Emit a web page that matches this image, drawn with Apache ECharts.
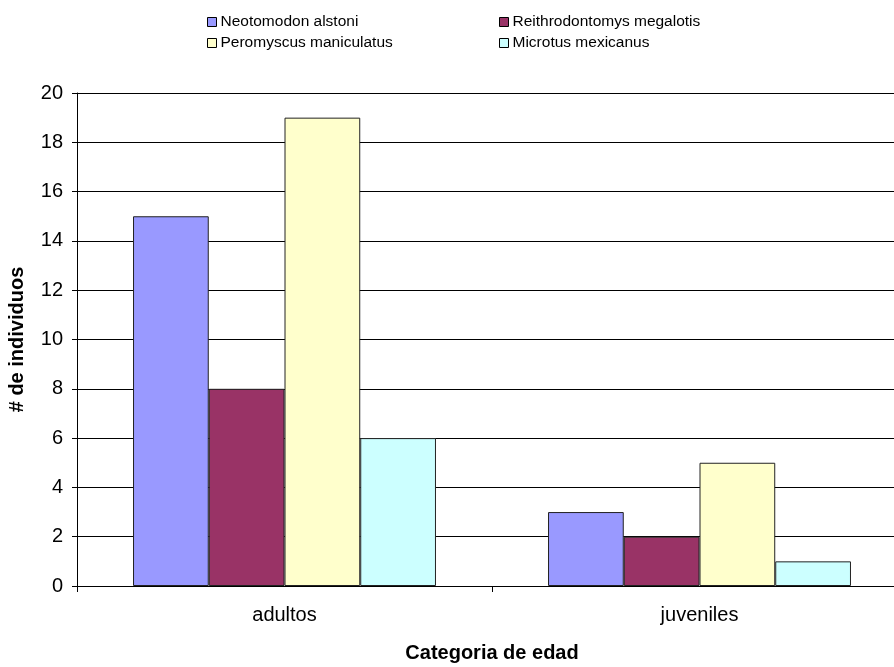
<!DOCTYPE html>
<html>
<head>
<meta charset="utf-8">
<script src="https://cdn.jsdelivr.net/npm/echarts@6/dist/echarts.min.js"></script>
<style>
  html, body { margin: 0; padding: 0; background: #fff; }
  #chart { width: 894px; height: 667px; }
</style>
</head>
<body>
<div id="chart"></div>
<script>
// Age categories and individual counts per species
const categories = ['adultos', 'juveniles'];
const speciesNames = ['Neotomodon alstoni', 'Reithrodontomys megalotis', 'Peromyscus maniculatus', 'Microtus mexicanus'];
const neotomodon = [15, 3];
const reithrodontomys = [8, 2];
const peromyscus = [19, 5];
const microtus = [6, 1];
const yTicks = [0, 2, 4, 6, 8, 10, 12, 14, 16, 18, 20];

const colors = ['#9999FF', '#993366', '#FFFFCC', '#CCFFFF'];
const seriesValues = [neotomodon, reithrodontomys, peromyscus, microtus];
const FONT = 'Liberation Sans, Arial, sans-serif';

const chart = echarts.init(document.getElementById('chart'), null, { renderer: 'canvas' });

const legendCommon = {
  orient: 'vertical',
  top: 9,
  itemWidth: 9,
  itemHeight: 9,
  itemGap: 5,
  icon: 'rect',
  selectedMode: false,
  textStyle: { fontFamily: FONT, fontSize: 15.5, color: '#000', padding: [0, 0, 0, -1] },
  itemStyle: { borderColor: '#000', borderWidth: 1 }
};

chart.setOption({
  animation: false,
  color: colors,
  legend: [
    Object.assign({}, legendCommon, { left: 202, data: [speciesNames[0], speciesNames[2]] }),
    Object.assign({}, legendCommon, { left: 494, data: [speciesNames[1], speciesNames[3]] })
  ],
  grid: { left: 77, right: -13, top: 93, bottom: 81, containLabel: false, outerBoundsMode: 'none' },
  xAxis: {
    type: 'category',
    data: categories,
    name: 'Categoria de edad',
    nameLocation: 'middle',
    nameGap: 57,
    nameTextStyle: { fontFamily: FONT, fontSize: 20, fontWeight: 'bold', color: '#000' },
    axisLine: { lineStyle: { color: '#000', width: 1 } },
    axisTick: { show: true, length: 6, lineStyle: { color: '#000' } },
    axisLabel: { fontFamily: FONT, fontSize: 20, color: '#000', margin: 19 }
  },
  yAxis: {
    type: 'value',
    min: yTicks[0],
    max: yTicks[yTicks.length - 1],
    interval: 2,
    name: '# de individuos',
    nameLocation: 'middle',
    nameGap: 50,
    nameTextStyle: { fontFamily: FONT, fontSize: 20, fontWeight: 'bold', color: '#000' },
    axisLine: { show: true, lineStyle: { color: '#000', width: 1 } },
    axisTick: { show: true, length: 5, lineStyle: { color: '#000' } },
    axisLabel: { fontFamily: FONT, fontSize: 20, color: '#000', margin: 14 },
    splitLine: { show: true, lineStyle: { color: '#000', width: 1 } }
  },
  series: speciesNames.map((name, i) => ({
    name: name,
    type: 'bar',
    data: seriesValues[i],
    barGap: '0%',
    barCategoryGap: '27%',
    itemStyle: { color: colors[i], borderColor: '#222', borderWidth: 1 }
  }))
});
</script>
</body>
</html>
